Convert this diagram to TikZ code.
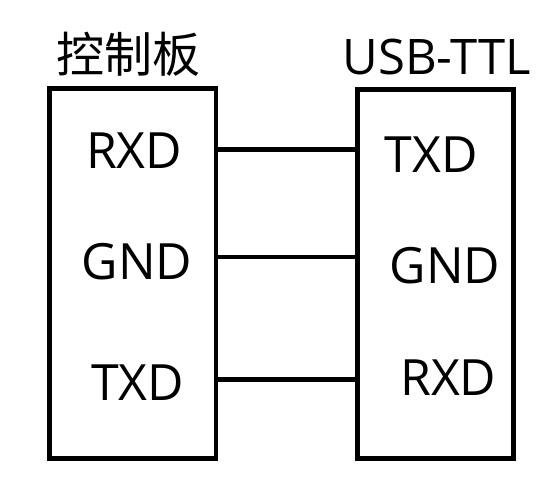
\documentclass[tikz,border=0pt]{standalone}
\usepackage{fontspec}
\setmainfont{Open Sans}
\newfontfamily\cjk{Noto Sans CJK SC}
\begin{document}
\begin{tikzpicture}[x=1pt,y=-1pt,
  board/.style={draw=black,line width=4.7pt,inner sep=0pt,rectangle},
  pin/.style={inner sep=0pt,font=\fontsize{50}{50}\selectfont},
  title/.style={inner sep=0pt,font=\fontsize{49}{49}\selectfont},
  wire/.style={line width=4.7pt,line cap=round}]
\useasboundingbox[fill=white] (0,0) rectangle (557,480);
\node[board,minimum width=166.3pt,minimum height=370.4pt] (lbox) at (132.85,273.5) {};
\node[board,minimum width=155.6pt,minimum height=369pt] (rbox) at (435.5,274.2) {};
\node[title,font=\cjk\fontsize{48}{48}\selectfont] (lt) at (128.3,54.3) {控制板};
\node[title] (rt) at (437,56.7) {USB-TTL};
\node[pin] (lrxd) at (134.2,150.5) {RXD};
\node[pin] (lgnd) at (137,262) {GND};
\node[pin] (ltxd) at (137.5,382.7) {TXD};
\node[pin] (rtxd) at (431.2,154.7) {TXD};
\node[pin] (rgnd) at (445,265.8) {GND};
\node[pin] (rrxd) at (448.3,377.5) {RXD};
\coordinate (y1) at (0,149.3);
\coordinate (y2) at (0,257);
\coordinate (y3) at (0,379.3);
\draw[wire] (lbox.east |- y1) -- (rbox.west |- y1);
\draw[wire] (lbox.east |- y2) -- (rbox.west |- y2);
\draw[wire] (lbox.east |- y3) -- (rbox.west |- y3);
\end{tikzpicture}
\end{document}
